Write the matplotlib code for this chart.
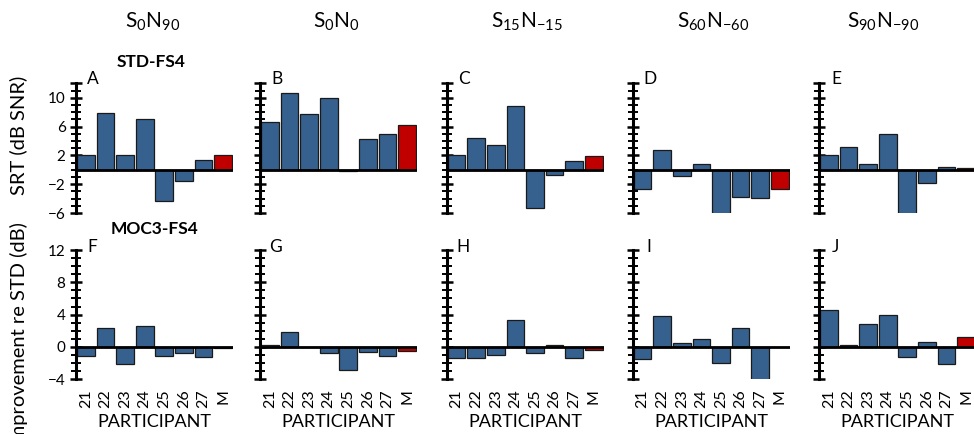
import matplotlib
matplotlib.use("Agg")
import matplotlib.pyplot as plt
import numpy as np

plt.rcParams['font.family'] = ['Lato', 'DejaVu Sans']
plt.rcParams['mathtext.fontset'] = 'custom'
plt.rcParams['mathtext.rm'] = 'Lato'
plt.rcParams['mathtext.it'] = 'Lato:italic'
plt.rcParams['mathtext.bf'] = 'Lato:bold'

participants = ['21', '22', '23', '24', '25', '26', '27', 'M']
conditions = [r'$\mathrm{S_{0}N_{90}}$', r'$\mathrm{S_{0}N_{0}}$', r'$\mathrm{S_{15}N_{-15}}$',
	r'$\mathrm{S_{60}N_{-60}}$', r'$\mathrm{S_{90}N_{-90}}$']

# SRT with the STD-FS4 strategy (dB SNR)
srt_s0n90 = [2.1, 7.9, 2.1, 7.1, -4.3, -1.5, 1.4, 2.1]
srt_s0n0 = [6.6, 10.6, 7.7, 9.9, -0.2, 4.3, 4.9, 6.25]
srt_s15n15 = [2.1, 4.4, 3.4, 8.8, -5.3, -0.7, 1.2, 1.9]
srt_s60n60 = [-2.7, 2.8, -0.8, 0.8, -6.6, -3.8, -3.9, -2.6]
srt_s90n90 = [2.1, 3.2, 0.8, 4.9, -6.5, -1.8, 0.4, 0.2]

# MOC3-FS4 improvement re STD (dB)
moc_s0n90 = [-1.1, 2.35, -2.15, 2.6, -1.1, -0.75, -1.25, -0.15]
moc_s0n0 = [0.25, 1.8, -0.05, -0.75, -2.9, -0.6, -1.1, -0.5]
moc_s15n15 = [-1.35, -1.35, -1.0, 3.35, -0.75, 0.3, -1.35, -0.35]
moc_s60n60 = [-1.5, 3.85, 0.55, 1.0, -2.0, 2.3, -4.2, np.nan]
moc_s90n90 = [4.6, 0.25, 2.8, 4.0, -1.25, 0.65, -2.1, 1.25]

top_rows = [srt_s0n90, srt_s0n0, srt_s15n15, srt_s60n60, srt_s90n90]
bottom_rows = [moc_s0n90, moc_s0n0, moc_s15n15, moc_s60n60, moc_s90n90]
top_letters = ['A', 'B', 'C', 'D', 'E']
bottom_letters = ['F', 'G', 'H', 'I', 'J']

W, H = 974, 434
fig = plt.figure(figsize=(W / 100, H / 100), dpi=100)

# panel layout in pixels
col_x = [76, 260, 446.7, 632.7, 819]
col_w = 157
title_x = [153, 336, 527, 713, 883]
blue = '#36618f'
red = '#c00000'


def px_axes(x0, y_top, w, h):
	return fig.add_axes([x0 / W, 1 - (y_top + h) / H, w / W, h / H])


def panel(ax, values, ylim, major, show_ylabels, show_xlabels):
	x = np.arange(len(participants))
	colors = [blue] * (len(participants) - 1) + [red]
	ax.bar(x, values, width=0.9, color=colors, edgecolor='#1a1a1a', linewidth=0.9, zorder=2)
	ax.axhline(0, color='black', lw=2, zorder=3)
	ax.set_xlim(-0.5, len(participants) - 0.5)
	ax.set_ylim(*ylim)
	for s in ['top', 'right', 'bottom']:
		ax.spines[s].set_visible(False)
	ax.spines['left'].set_linewidth(2.2)
	ax.spines['left'].set_zorder(4)
	ax.set_yticks(major)
	ax.set_yticks(np.arange(ylim[0], ylim[1] + 1, 1), minor=True)
	ax.tick_params(axis='y', which='major', direction='inout', length=9, width=1.8, labelsize=11, pad=3)
	ax.tick_params(axis='y', which='minor', direction='inout', length=7, width=1.4)
	if not show_ylabels:
		ax.set_yticklabels([])
	ax.set_xticks(x)
	if show_xlabels:
		ax.set_xticklabels(participants, rotation=90, fontsize=11.5)
		ax.tick_params(axis='x', length=0, pad=7)
	else:
		ax.set_xticklabels([])
		ax.tick_params(axis='x', length=0)
	ax.patch.set_alpha(0)


for i in range(5):
	ax = px_axes(col_x[i], 83.3, col_w, 129.7)
	panel(ax, top_rows[i], (-6, 12), [-6, -2, 2, 6, 10, 12], i == 0, False)
	if i == 0:
		# 12 gets a long tick but no number
		ax.get_yticklabels()[-1].set_visible(False)
	fig.text((col_x[i] + 17) / W, 1 - 79 / H, top_letters[i], fontsize=12.5, ha='center', va='center')

	ax2 = px_axes(col_x[i], 250, col_w, 129.3)
	panel(ax2, bottom_rows[i], (-4, 12), [-4, 0, 4, 8, 12], i == 0, True)
	fig.text((col_x[i] + 16) / W, 1 - 247 / H, bottom_letters[i], fontsize=12.5, ha='center', va='center')
	fig.text((col_x[i] + col_w / 2) / W, 1 - 421.7 / H, 'PARTICIPANT', fontsize=13, ha='center', va='center')

	fig.text(title_x[i] / W, 1 - 22 / H, conditions[i], fontsize=15, ha='center', va='center')

fig.text(151 / W, 1 - 62 / H, 'STD-FS4', fontsize=12.5, fontweight='bold', ha='center', va='center')
fig.text(154 / W, 1 - 229 / H, 'MOC3-FS4', fontsize=12.5, fontweight='bold', ha='center', va='center')
fig.text(18.5 / W, 1 - 135 / H, 'SRT (dB SNR)', fontsize=14.5, rotation=90, ha='center', va='center')
fig.text(18.5 / W, 1 - 222 / H, 'Improvement re STD (dB)', fontsize=14.5, rotation=90, ha='center', va='top')

fig.savefig('out.png', dpi=100)
